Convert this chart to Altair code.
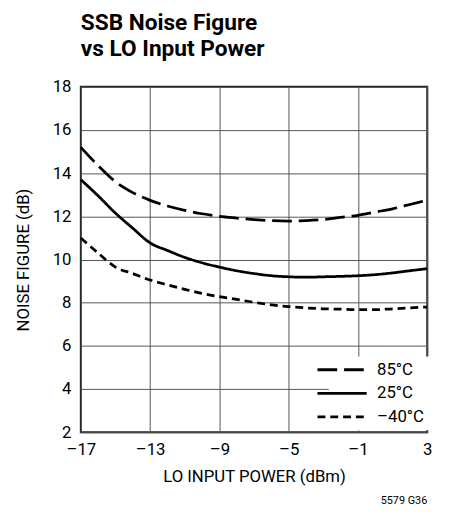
import altair as alt
import pandas as pd

x_vals = [-17, -16, -15, -14, -13, -12, -11, -10, -9, -8, -7, -6, -5, -4, -3, -2, -1, 0, 1, 2, 3]
nf_85 = [15.2, 14.35, 13.6, 13.1, 12.74, 12.48, 12.28, 12.12, 12.0, 11.92, 11.85, 11.8, 11.78, 11.8, 11.85, 11.95, 12.05, 12.2, 12.35, 12.55, 12.75]
nf_25 = [13.7, 12.95, 12.15, 11.45, 10.77, 10.42, 10.1, 9.85, 9.65, 9.48, 9.35, 9.25, 9.2, 9.18, 9.2, 9.22, 9.25, 9.3, 9.38, 9.48, 9.58]
nf_m40 = [11.0, 10.3, 9.65, 9.35, 9.05, 8.83, 8.62, 8.43, 8.28, 8.15, 8.02, 7.9, 7.82, 7.76, 7.72, 7.7, 7.68, 7.68, 7.72, 7.76, 7.8]
series = ["85°C", "25°C", "–40°C"]
x_ticks = [-17, -13, -9, -5, -1, 3]
y_ticks = [2, 4, 6, 8, 10, 12, 14, 16, 18]

rows = []
for name, vals in zip(series, [nf_85, nf_25, nf_m40]):
    for x, v in zip(x_vals, vals):
        rows.append({"lo": x, "nf": v, "temp": name})
df = pd.DataFrame(rows)

FONT = "Roboto"

lines = alt.Chart(df).mark_line(color="black", strokeWidth=2.8, interpolate="monotone").encode(
    x=alt.X("lo:Q", scale=alt.Scale(domain=[-17, 3], nice=False),
            axis=alt.Axis(values=x_ticks, title="LO INPUT POWER (dBm)",
                          labelExpr="datum.value < 0 ? '–' + abs(datum.value) : '' + datum.value")),
    y=alt.Y("nf:Q", scale=alt.Scale(domain=[2, 18], nice=False),
            axis=alt.Axis(values=y_ticks, title="NOISE FIGURE (dB)")),
    strokeDash=alt.StrokeDash("temp:N", sort=series,
                              scale=alt.Scale(domain=series, range=[[20, 7], [1, 0], [8, 5]]),
                              legend=alt.Legend(title=None, orient="none", legendX=252, legendY=274,
                                                symbolType="M-4,0H4", symbolSize=156,
                                                symbolStrokeWidth=2.8, symbolStrokeColor="black",
                                                labelFontSize=17, labelFont=FONT, labelColor="black",
                                                fillColor="white", padding=5, rowPadding=6,
                                                labelOffset=27)),
)

note = alt.Chart(alt.Data(values=[{"t": "5579 G36"}])).mark_text(
    align="right", baseline="middle", fontSize=11, font=FONT, color="black"
).encode(x=alt.value(352), y=alt.value(421), text="t:N")

chart = alt.layer(lines, note).properties(
    width=352, height=351,
    title=alt.TitleParams(text=["SSB Noise Figure", "vs LO Input Power"], anchor="start",
                          frame="group", fontSize=23, font=FONT, fontWeight="bold", lineHeight=27,
                          offset=17, color="black"),
    padding={"left": 6, "top": 0, "right": 8, "bottom": 5},
).configure_axis(
    grid=True, gridColor="#555", gridWidth=1, domain=False, ticks=False,
    labelFont=FONT, labelFontSize=17, labelColor="black", labelPadding=10,
    labelFlush=False, labelOverlap=False,
    titleFont=FONT, titleFontSize=17, titleFontWeight="normal", titleColor="black",
).configure_axisX(titlePadding=11, labelPadding=10).configure_axisY(titlePadding=20).configure_view(
    stroke="#222", strokeWidth=2
)

chart.save("out.html", embed_options={"renderer": "svg", "actions": False})
